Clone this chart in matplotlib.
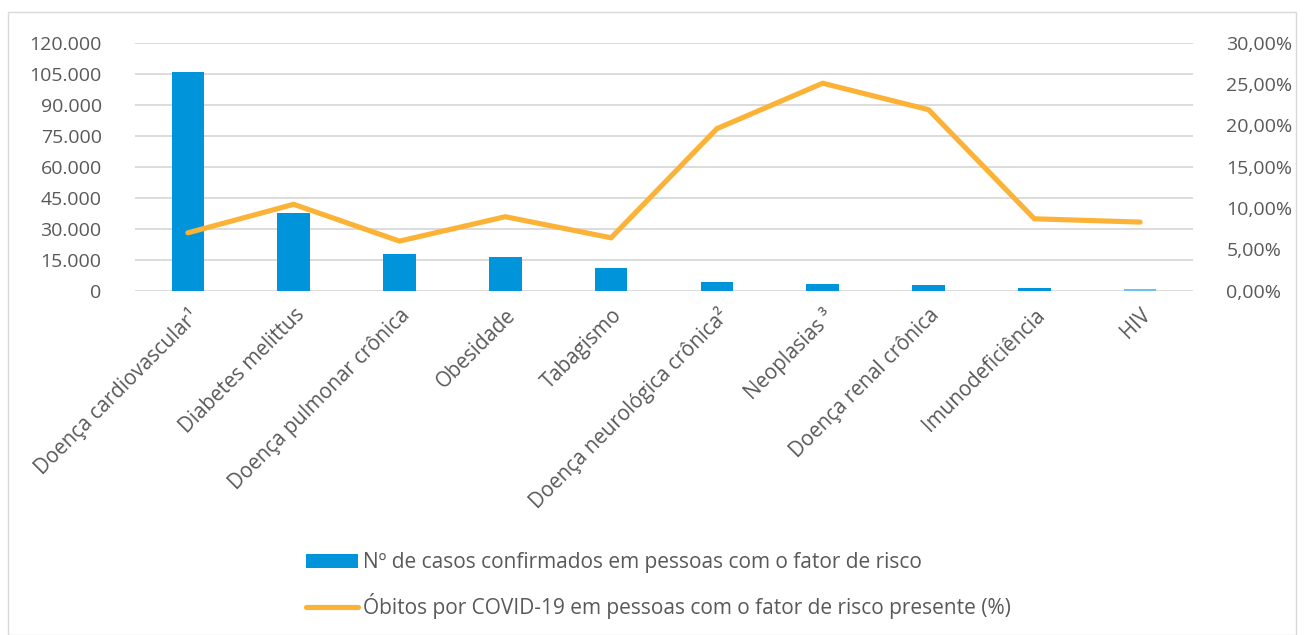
import matplotlib.pyplot as plt
import matplotlib.patches as patches
from matplotlib.ticker import FuncFormatter, MultipleLocator

plt.rcParams['font.family'] = ['Open Sans', 'DejaVu Sans']

categories = [
    "Doença cardiovascular¹",
    "Diabetes melittus",
    "Doença pulmonar crônica",
    "Obesidade",
    "Tabagismo",
    "Doença neurológica crônica²",
    "Neoplasias ³",
    "Doença renal crônica",
    "Imunodeficiência",
    "HIV",
]
casos = [105700, 37700, 17600, 16200, 11000, 4200, 3200, 2800, 1450, 700]
obitos_pct = [7.0, 10.45, 6.0, 8.95, 6.4, 19.6, 25.1, 21.9, 8.7, 8.3]

bar_label = "Nº de casos confirmados em pessoas com o fator de risco"
line_label = "Óbitos por COVID-19 em pessoas com o fator de risco presente (%)"

BLUE = '#0095DA'
ORANGE = '#FBB236'
GRID = '#D9D9D9'
TEXT = '#595959'

fig = plt.figure(figsize=(13.04, 6.35), dpi=100)
ax = fig.add_axes([135 / 1304, 1 - 290.7 / 635, 1058 / 1304, 248 / 635])
ax2 = ax.twinx()

x = list(range(len(categories)))
bar_colors = [BLUE] * (len(categories) - 1) + ['#6EC1EA']
bars = ax.bar(x, casos, width=0.31, color=bar_colors, zorder=2, label=bar_label)
line, = ax2.plot(x, [v / 100 for v in obitos_pct], color=ORANGE, lw=3.7,
                 solid_capstyle='round', solid_joinstyle='miter', label=line_label)

ax.set_xlim(-0.5, len(categories) - 0.5)
ax.set_ylim(0, 120000)
ax2.set_ylim(0, 0.30)
ax.yaxis.set_major_locator(MultipleLocator(15000))
ax2.yaxis.set_major_locator(MultipleLocator(0.05))
ax.yaxis.set_major_formatter(FuncFormatter(lambda v, p: f"{int(v):,}".replace(',', '.')))
ax2.yaxis.set_major_formatter(FuncFormatter(lambda v, p: f"{v * 100:.2f}%".replace('.', ',')))

ax.grid(axis='y', color=GRID, lw=1.3, zorder=0)
ax.set_axisbelow(True)
for a in (ax, ax2):
    for s in a.spines.values():
        s.set_visible(False)
    a.tick_params(length=0, colors=TEXT, labelsize=14)
ax.tick_params(axis='y', pad=24)
ax2.tick_params(axis='y', pad=24)

ax.set_xticks(x)
ax.set_xticklabels(categories, rotation=45, ha='right', rotation_mode='anchor',
                   fontsize=14.8, color=TEXT)
ax.tick_params(axis='x', pad=10)

# chart border
fig.add_artist(patches.Rectangle((8 / 1304, 0), 1 - 16 / 1304, 1 - 12 / 635,
                                 transform=fig.transFigure, fill=False,
                                 edgecolor='#D9D9D9', lw=1))

leg = fig.legend([bars, line], [bar_label, line_label], loc='upper left',
                 bbox_to_anchor=(306 / 1304, 1 - 552 / 635), frameon=False,
                 fontsize=15, labelcolor=TEXT, handlelength=2.5, handletextpad=0.22,
                 handleheight=0.65, labelspacing=0.95, borderaxespad=0, borderpad=0)

fig.savefig('out.png', dpi=100)
